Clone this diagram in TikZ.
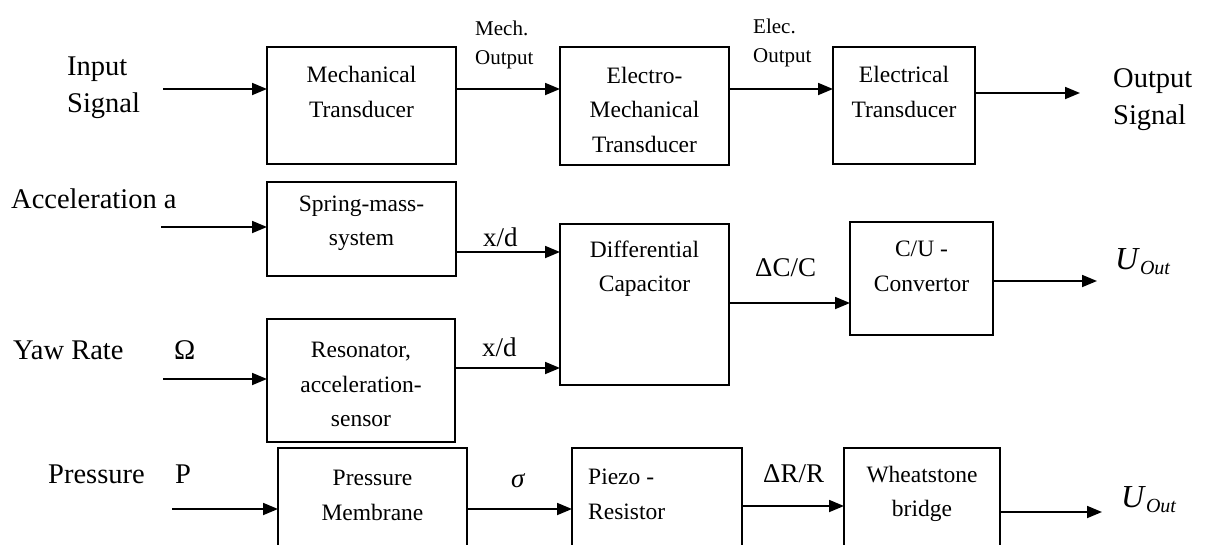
\documentclass[tikz,border=0pt]{standalone}
\usepackage{fontspec}
\setmainfont{Liberation Serif}
\usetikzlibrary{arrows.meta}
\newcommand{\uoutlabel}{\textit{U}\raisebox{-5pt}{\fontsize{20}{20}\selectfont\textit{Out}}}
\begin{document}
\begin{tikzpicture}[x=1pt,y=-1pt,
  box/.style={draw, line width=1.8pt, inner sep=0pt, outer sep=0pt},
  arr/.style={line width=1.8pt, -{Triangle[length=15pt,width=12pt]}},
  big/.style={inner sep=0pt, font=\fontsize{28.5}{37}\selectfont, align=left, anchor=west},
  btxt/.style={inner sep=0pt, font=\fontsize{23.5}{34.5}\selectfont, align=center},
  sml/.style={inner sep=0pt, font=\fontsize{21}{29}\selectfont, align=left, anchor=west},
  sig/.style={inner sep=0pt, font=\fontsize{27}{30}\selectfont, anchor=west},
  uout/.style={inner sep=0pt, font=\fontsize{32}{34}\selectfont, anchor=west}]
\useasboundingbox[fill=white] (0,0) rectangle (1211,544);
\clip (0,0) rectangle (1211,544);

% ---- boxes
\node[box, minimum width=189pt, minimum height=117pt] (mech)   at (361.5,105.5) {};
\node[box, minimum width=169pt, minimum height=118pt] (emech)  at (644.5,106) {};
\node[box, minimum width=142pt, minimum height=117pt] (elec)   at (904,105.5) {};
\node[box, minimum width=189pt, minimum height=94pt]  (spring) at (361.5,229) {};
\node[box, minimum width=188pt, minimum height=123pt] (reson)  at (361,380.5) {};
\node[box, minimum width=169pt, minimum height=161pt] (diff)   at (644.5,304.5) {};
\node[box, minimum width=143pt, minimum height=113pt] (cu)     at (921.5,278.5) {};
\node[box, minimum width=189pt, minimum height=132pt] (pmem)   at (372.5,514) {};
\node[box, minimum width=170pt, minimum height=132pt] (piezo)  at (657,514) {};
\node[box, minimum width=156pt, minimum height=132pt] (wheat)  at (922,514) {};

% ---- box texts
\node[btxt] (mechT)   at (361.5,92)   {Mechanical\\Transducer};
\node[btxt] (emechT)  at (644.5,109.5){Electro-\\Mechanical\\Transducer};
\node[btxt] (elecT)   at (904,92)     {Electrical\\Transducer};
\node[btxt] (springT) at (361.5,223.5){Spring-mass-\\system};
\node[btxt] (resonT)  at (361,384.5)  {Resonator,\\acceleration-\\sensor};
\node[btxt] (diffT)   at (644.5,268.5){Differential\\Capacitor};
\node[btxt] (cuT)     at (921.5,266.5){C/U -\\Convertor};
\node[btxt] (pmemT)   at (372.5,495.5){Pressure\\Membrane};
\node[btxt, align=left, anchor=west] (piezoT) at (588,494.5) {Piezo -\\Resistor};
\node[btxt] (wheatT)  at (922,494)    {Wheatstone\\bridge};

% ---- outer labels
\node[big] (inL)   at (67,88)    {Input\\Signal};
\node[big] (outL)  at (1113,100) {Output\\Signal};
\node[sml] (mechL) at (475,45)   {Mech.\\Output};
\node[sml] (elecL) at (753,43)   {Elec.\\Output};
\node[big] (accL)  at (11,199)   {Acceleration a};
\node[big] (yawL)  at (13,350)   {Yaw Rate};
\node[big] (omL)   at (174,350)  {Ω};
\node[big] (prL)   at (48,474)   {Pressure};
\node[big] (pL)    at (175,474)  {P};
\node[sig] (xd1)   at (483,237)  {x/d};
\node[sig] (xd2)   at (482,347)  {x/d};
\node[sig] (dcc)   at (755,268)  {ΔC/C};
\node[sig] (drr)   at (763,474)  {ΔR/R};
\node[sig] (sigL)  at (511,481)  {\textit{σ}};
\node[uout] (uo1)  at (1115,262) {\uoutlabel};
\node[uout] (uo2)  at (1121,500) {\uoutlabel};

% ---- connector coordinates
\coordinate (s1) at (163,89);
\coordinate (y1) at (0,89);
\coordinate (e1) at (1080,93);
\coordinate (s2) at (161,227);
\coordinate (y2) at (0,252);
\coordinate (s3) at (163,379);
\coordinate (y3) at (0,368);
\coordinate (y4) at (0,303);
\coordinate (e2) at (1097,281);
\coordinate (s4) at (172,509);
\coordinate (y5) at (0,509);
\coordinate (y6) at (0,506);
\coordinate (e3) at (1102,512);

% ---- connectors
\draw[arr] (s1) -- (s1 -| mech.west);
\draw[arr] (mech.east |- y1) -- (emech.west |- y1);
\draw[arr] (emech.east |- y1) -- (elec.west |- y1);
\draw[arr] (elec.east |- e1) -- (e1);
\draw[arr] (s2) -- (s2 -| spring.west);
\draw[arr] (spring.east |- y2) -- (diff.west |- y2);
\draw[arr] (s3) -- (s3 -| reson.west);
\draw[arr] (reson.east |- y3) -- (diff.west |- y3);
\draw[arr] (diff.east |- y4) -- (cu.west |- y4);
\draw[arr] (cu.east |- e2) -- (e2);
\draw[arr] (s4) -- (s4 -| pmem.west);
\draw[arr] (pmem.east |- y5) -- (piezo.west |- y5);
\draw[arr] (piezo.east |- y6) -- (wheat.west |- y6);
\draw[arr] (wheat.east |- e3) -- (e3);
\end{tikzpicture}
\end{document}
